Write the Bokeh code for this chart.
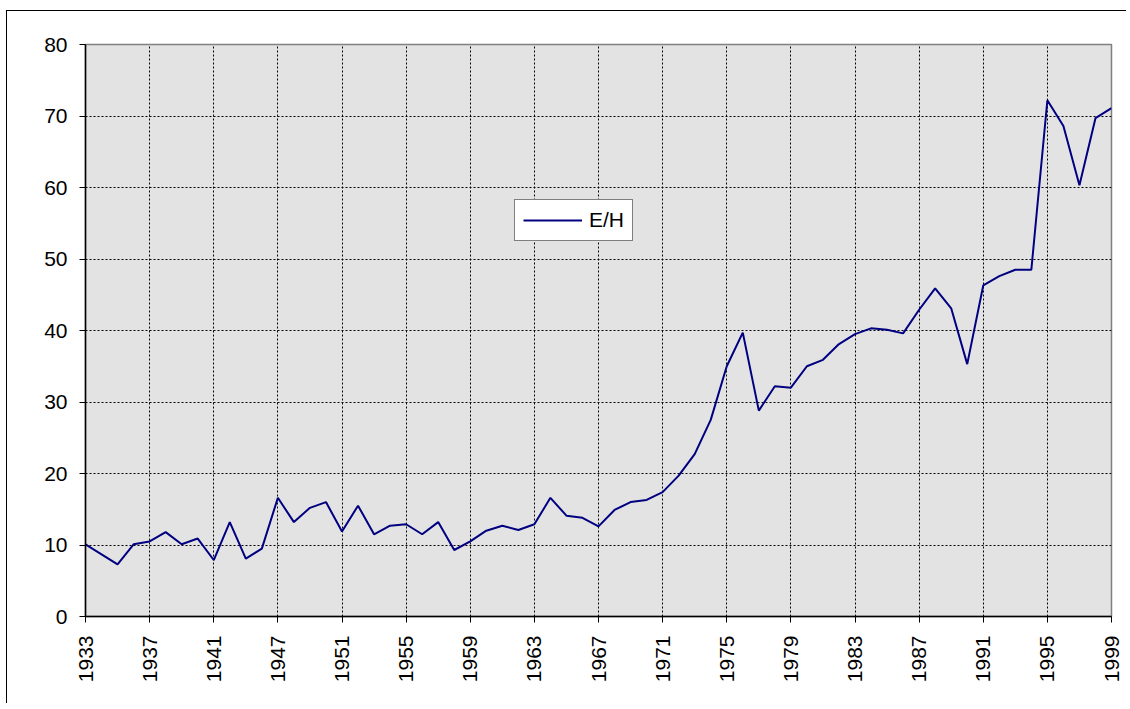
from bokeh.plotting import figure
from bokeh.models import Range1d, FixedTicker, ColumnDataSource
from bokeh.embed import file_html
from bokeh.resources import INLINE
import math

years = [str(y) for y in range(1933, 1942)] + ["1942", "1945", "1946"] + [str(y) for y in range(1947, 2000)]
eh = [10.1, 8.7, 7.3, 10.1, 10.5, 11.8, 10.1, 10.9, 7.9,
      13.2, 8.1, 9.5,
      16.6, 13.2, 15.2, 16.0, 11.9, 15.5, 11.5, 12.7, 12.9, 11.5,
      13.2, 9.3, 10.5, 12.0, 12.7, 12.1, 12.9, 16.6, 14.1, 13.8,
      12.6, 14.9, 16.0, 16.3, 17.4, 19.7, 22.7, 27.5, 35.0, 39.7,
      28.8, 32.2, 32.0, 35.0, 35.9, 38.1, 39.5, 40.3, 40.1, 39.6,
      42.9, 45.9, 43.1, 35.3, 46.3, 47.6, 48.5, 48.5, 72.2, 68.6,
      60.3, 69.7, 71.1]
y_ticks = [0, 10, 20, 30, 40, 50, 60, 70, 80]
label_step = 4

idx = list(range(len(years)))
src = ColumnDataSource(dict(x=idx, y=eh, year=years))
x_ticks = idx[::label_step]

FONT = "Liberation Sans"

p = figure(width=1120, height=693, output_backend="svg", toolbar_location=None,
           x_range=Range1d(0, len(years) - 1), y_range=Range1d(0, 80),
           min_border_left=78, min_border_top=33, min_border_right=16, min_border_bottom=88)
p.styles = {"border-top": "1px solid #000", "border-left": "1px solid #000",
            "margin-left": "6px", "margin-top": "10px"}

p.border_fill_color = "white"
p.background_fill_color = "#e3e3e3"
p.outline_line_color = "#808080"
p.outline_line_width = 1.5

# axes
p.xaxis.ticker = FixedTicker(ticks=x_ticks)
p.xaxis.major_label_overrides = {i: years[i] for i in x_ticks}
p.xaxis.major_label_orientation = math.pi / 2
p.yaxis.ticker = FixedTicker(ticks=y_ticks)
for ax in (p.xaxis[0], p.yaxis[0]):
    ax.axis_line_color = "black"
    ax.axis_line_width = 1.5
    ax.major_tick_line_color = "black"
    ax.major_tick_in = 0
    ax.major_tick_out = 6
    ax.minor_tick_line_color = None
    ax.major_label_text_font = FONT
    ax.major_label_text_font_size = "21px"
    ax.major_label_text_color = "black"
p.yaxis.major_label_standoff = 12
p.xaxis.major_label_standoff = 13

# grid
p.xgrid.ticker = FixedTicker(ticks=x_ticks)
p.ygrid.ticker = FixedTicker(ticks=y_ticks)
for g in (p.xgrid[0], p.ygrid[0]):
    g.grid_line_color = "black"
    g.grid_line_dash = "2 2"
    g.grid_line_width = 1

p.line("x", "y", source=src, line_color="#000080", line_width=2, legend_label="E/H")

lg = p.legend[0]
lg.location = (429, 375)
lg.border_line_color = "black"
lg.border_line_width = 1
lg.background_fill_color = "white"
lg.background_fill_alpha = 1
lg.label_text_font = FONT
lg.label_text_font_size = "21px"
lg.label_text_color = "black"
lg.glyph_width = 59
lg.glyph_height = 22
lg.padding = 8
lg.margin = 0
lg.label_standoff = 7
lg.spacing = 0

open("out.html", "w").write(file_html(p, INLINE))
